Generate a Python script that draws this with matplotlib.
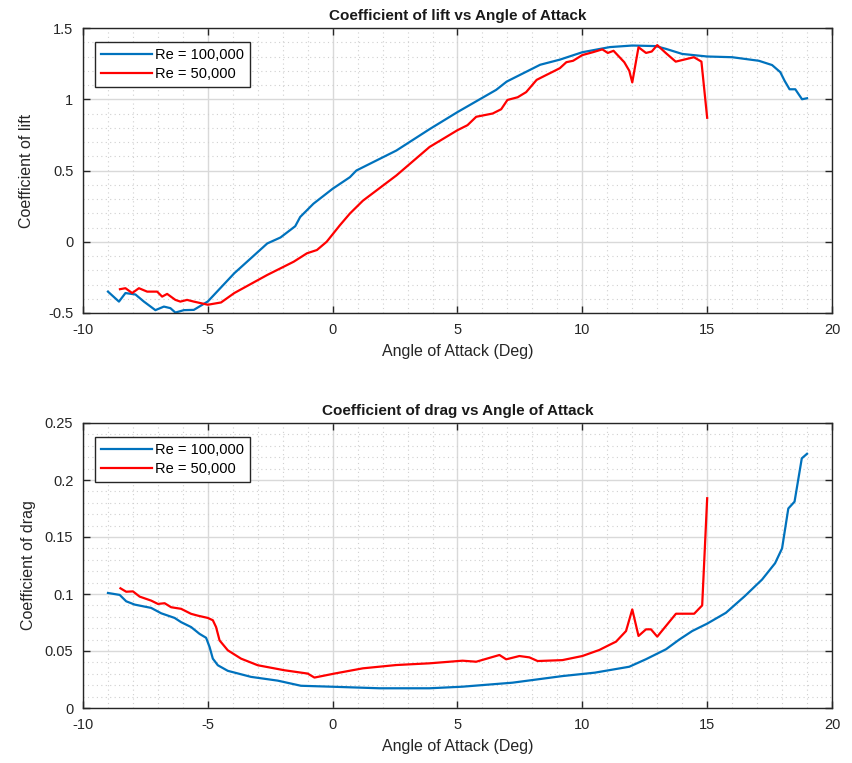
import matplotlib
matplotlib.use("Agg")
import matplotlib.pyplot as plt
from matplotlib.ticker import MultipleLocator, FuncFormatter

plt.rcParams['font.family'] = ['Liberation Sans', 'DejaVu Sans']
plt.rcParams['axes.unicode_minus'] = False

# ---- Lift data ----
aoa_cl_100 = [-9.0, -8.56, -8.3, -7.9, -7.56, -7.1, -6.76, -6.5, -6.3, -5.96, -5.56, -5.0,
              -3.94, -2.62, -2.09, -1.5, -1.3, -0.77, 0.0, 0.69, 0.95, 2.55, 3.88, 5.0, 6.55,
              6.97, 8.31, 9.1, 10.0, 11.1, 12.0, 12.94, 13.34, 14.0, 15.0, 16.0, 17.07,
              17.6, 17.93, 18.1, 18.3, 18.53, 18.8, 19.0]
cl_100 = [-0.35, -0.42, -0.36, -0.37, -0.42, -0.48, -0.455, -0.466, -0.497, -0.48, -0.478, -0.419,
          -0.221, -0.012, 0.03, 0.109, 0.174, 0.267, 0.372, 0.453, 0.5, 0.64, 0.79, 0.91, 1.066,
          1.124, 1.242, 1.278, 1.33, 1.366, 1.377, 1.373, 1.354, 1.318, 1.30, 1.295, 1.27,
          1.24, 1.19, 1.13, 1.07, 1.07, 1.0, 1.007]

aoa_cl_50 = [-8.52, -8.3, -8.03, -7.76, -7.43, -7.03, -6.83, -6.63, -6.3, -6.1, -5.83, -5.56,
             -5.0, -4.47, -3.94, -2.62, -1.56, -1.03, -0.63, -0.24, 0.29, 0.69, 1.21, 2.55, 3.88,
             5.0, 5.4, 5.75, 6.41, 6.75, 7.0, 7.41, 7.75, 8.17, 8.44, 8.84, 9.1, 9.36, 9.63,
             10.0, 10.42, 10.8, 11.02, 11.25, 11.68, 11.88, 12.0, 12.25, 12.55, 12.78, 13.0,
             13.34, 13.74, 14.47, 14.77, 15.0]
cl_50 = [-0.333, -0.326, -0.36, -0.326, -0.35, -0.35, -0.385, -0.366, -0.408, -0.42, -0.408, -0.42,
         -0.442, -0.426, -0.36, -0.233, -0.14, -0.081, -0.058, 0.0, 0.116, 0.198, 0.288, 0.465, 0.665,
         0.783, 0.818, 0.877, 0.90, 0.93, 0.995, 1.014, 1.05, 1.136, 1.16, 1.195, 1.218, 1.26, 1.27,
         1.31, 1.33, 1.35, 1.325, 1.34, 1.26, 1.2, 1.118, 1.365, 1.325, 1.335, 1.38,
         1.325, 1.264, 1.295, 1.264, 0.87]

# ---- Drag data ----
aoa_cd_100 = [-9.0, -8.53, -8.27, -7.93, -7.27, -6.87, -6.33, -6.07, -5.67, -5.33, -5.07, -4.93,
              -4.8, -4.6, -4.2, -3.27, -2.2, -1.27, 0.07, 1.88, 3.88, 5.2, 7.2, 9.2, 10.5,
              11.88, 12.55, 13.35, 13.88, 14.4, 15.0, 15.75, 16.5, 17.2, 17.72, 18.0, 18.25,
              18.5, 18.79, 19.0]
cd_100 = [0.1009, 0.0992, 0.0936, 0.0907, 0.0878, 0.0831, 0.079, 0.0753, 0.071, 0.065, 0.0616, 0.0535,
          0.0433, 0.0375, 0.0326, 0.0273, 0.024, 0.0195, 0.0186, 0.0173, 0.0173, 0.0187, 0.0222, 0.028, 0.031,
          0.0362, 0.0428, 0.0515, 0.060, 0.0675, 0.074, 0.0835, 0.098, 0.1127, 0.127, 0.140, 0.175,
          0.181, 0.219, 0.223]

aoa_cd_50 = [-8.5, -8.27, -8.0, -7.73, -7.27, -7.0, -6.73, -6.47, -6.07, -5.67, -5.4, -5.0,
             -4.8, -4.67, -4.53, -4.2, -3.67, -3.0, -1.93, -1.0, -0.73, 0.07, 1.21, 2.55,
             3.88, 5.2, 5.75, 6.68, 6.95, 7.48, 7.88, 8.21, 9.2, 10.0, 10.68, 11.08, 11.35,
             11.75, 12.0, 12.25, 12.55, 12.75, 13.0, 13.75, 14.48, 14.8, 15.0]
cd_50 = [0.105, 0.102, 0.1023, 0.0977, 0.0942, 0.0913, 0.0919, 0.0884, 0.087, 0.0826, 0.081, 0.079,
         0.077, 0.071, 0.0593, 0.0506, 0.0433, 0.0375, 0.0331, 0.0302, 0.0267, 0.0302, 0.0348, 0.0377,
         0.0392, 0.0415, 0.0406, 0.0465, 0.0427, 0.0456, 0.0444, 0.0412, 0.042, 0.0456, 0.0509, 0.0553, 0.0582,
         0.0675, 0.0865, 0.0632, 0.069, 0.069, 0.0626, 0.0827, 0.0827, 0.090, 0.184]

labels = ['Re = 100,000', 'Re = 50,000']
blue = '#0072BD'
red = '#FF0000'

W, H = 853, 763
fig = plt.figure(figsize=(W / 100, H / 100), dpi=100)
ax1 = fig.add_axes([83 / W, 1 - 313 / H, (832 - 83) / W, (313 - 28) / H])
ax2 = fig.add_axes([83 / W, 1 - 708 / H, (832 - 83) / W, (708 - 423) / H])


def fmt(v, pos):
    s = ('%.2f' % v).rstrip('0').rstrip('.')
    if s == '-0':
        s = '0'
    return s


def style(ax, ymin, ymax, ymaj, ymin_step):
    ax.set_xlim(-10, 20)
    ax.set_ylim(ymin, ymax)
    ax.xaxis.set_major_locator(MultipleLocator(5))
    ax.xaxis.set_minor_locator(MultipleLocator(1))
    ax.yaxis.set_major_locator(MultipleLocator(ymaj))
    ax.yaxis.set_minor_locator(MultipleLocator(ymin_step))
    ax.grid(True, which='major', color='#d9d9d9', linewidth=1.0, linestyle='-')
    ax.grid(True, which='minor', color='#d0d0d0', linewidth=0.8, linestyle=(0, (1, 3)))
    ax.set_axisbelow(True)
    ax.tick_params(which='both', direction='in', top=True, right=True,
                   labelsize=10.5, colors='#262626', labelcolor='#262626')
    ax.tick_params(which='major', length=5, width=1.0)
    ax.tick_params(which='minor', length=0)
    ax.tick_params(axis='x', pad=7)
    ax.tick_params(axis='y', pad=7)
    for s in ax.spines.values():
        s.set_color('#262626')
        s.set_linewidth(1.0)
    ax.yaxis.set_major_formatter(FuncFormatter(fmt))
    ax.set_xlabel('Angle of Attack (Deg)', fontsize=11.5, color='#262626', labelpad=5)


ax1.plot(aoa_cl_100, cl_100, color=blue, lw=1.6, label=labels[0])
ax1.plot(aoa_cl_50, cl_50, color=red, lw=1.6, label=labels[1])
style(ax1, -0.5, 1.5, 0.5, 0.1)
ax1.set_ylabel('Coefficient of lift', fontsize=11.5, color='#262626', labelpad=10)
ax1.set_title('Coefficient of lift vs Angle of Attack', fontsize=11, fontweight='bold',
              color='#1a1a1a', pad=6)

ax2.plot(aoa_cd_100, cd_100, color=blue, lw=1.6, label=labels[0])
ax2.plot(aoa_cd_50, cd_50, color=red, lw=1.6, label=labels[1])
style(ax2, 0, 0.25, 0.05, 0.01)
ax2.set_ylabel('Coefficient of drag', fontsize=11.5, color='#262626', labelpad=6)
ax2.set_title('Coefficient of drag vs Angle of Attack', fontsize=11, fontweight='bold',
              color='#1a1a1a', pad=6)

for ax in (ax1, ax2):
    leg = ax.legend(loc='upper left', bbox_to_anchor=(0.016, 0.95), fontsize=10.5,
                    handlelength=3.5, handletextpad=0.2, borderpad=0.4,
                    labelspacing=0.35, fancybox=False, framealpha=1.0,
                    edgecolor='#262626', borderaxespad=0)
    leg.get_frame().set_linewidth(1.0)

fig.savefig('out.png', dpi=100, facecolor='white')
